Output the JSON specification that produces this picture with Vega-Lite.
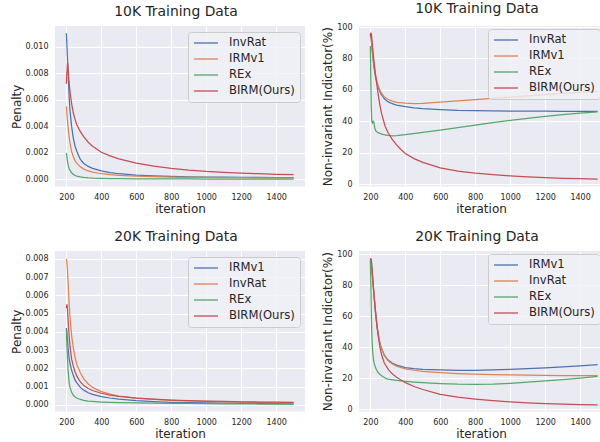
{
  "$schema": "https://vega.github.io/schema/vega-lite/v6.json",
  "background": "white",
  "padding": {"left": 10, "top": 2, "right": 0, "bottom": 0},
  "bounds": "flush",
  "columns": 2,
  "spacing": {"row": 64, "column": 54},
  "resolve": {"scale": {"color": "independent", "x": "independent", "y": "independent"}, "legend": {"color": "independent"}},
  "config": {
    "font": "DejaVu Sans",
    "view": {"fill": "#EAEAF2", "stroke": null},
    "axis": {"domain": false, "ticks": false, "tickSize": 0, "grid": true, "gridColor": "#FFFFFF", "gridWidth": 1, "labelFont": "DejaVu Sans", "labelFontSize": 8, "labelColor": "#262626", "labelPadding": 7, "titleFont": "DejaVu Sans", "titleFontSize": 12, "titleFontWeight": "normal", "titleColor": "#262626", "titlePadding": 2},
    "title": {"font": "DejaVu Sans", "fontSize": 13.9, "fontWeight": "normal", "color": "#262626", "baseline": "alphabetic", "offset": 7, "frame": "group", "dx": -4},
    "legend": {"orient": "top-right", "offset": 5, "fillColor": "rgba(240,240,246,0.8)", "strokeColor": "#CCCCCC", "strokeWidth": 1, "padding": 5, "cornerRadius": 3, "symbolType": "M-1,0H3.8", "symbolSize": 100, "symbolStrokeWidth": 1.3, "labelFontSize": 11.6, "labelFont": "DejaVu Sans", "labelColor": "#262626", "labelOffset": 24, "rowPadding": 4}
  },
  "datasets": {
    "p1": [
      {"it":200,"m":"InvRat","v":0.0110},{"it":203,"m":"InvRat","v":0.0101},{"it":206,"m":"InvRat","v":0.0092},{"it":210,"m":"InvRat","v":0.0080},{"it":215,"m":"InvRat","v":0.0065},{"it":220,"m":"InvRat","v":0.0053},{"it":230,"m":"InvRat","v":0.0040},{"it":240,"m":"InvRat","v":0.0031},{"it":250,"m":"InvRat","v":0.0025},{"it":260,"m":"InvRat","v":0.0021},{"it":280,"m":"InvRat","v":0.0015},{"it":300,"m":"InvRat","v":0.0012},{"it":325,"m":"InvRat","v":0.00098},{"it":350,"m":"InvRat","v":0.00084},{"it":400,"m":"InvRat","v":0.00065},{"it":450,"m":"InvRat","v":0.00052},{"it":500,"m":"InvRat","v":0.00043},{"it":600,"m":"InvRat","v":0.00033},{"it":700,"m":"InvRat","v":0.00027},{"it":800,"m":"InvRat","v":0.00023},{"it":900,"m":"InvRat","v":0.0002},{"it":1000,"m":"InvRat","v":0.00018},{"it":1100,"m":"InvRat","v":0.00017},{"it":1200,"m":"InvRat","v":0.00016},{"it":1300,"m":"InvRat","v":0.00015},{"it":1400,"m":"InvRat","v":0.00014},{"it":1500,"m":"InvRat","v":0.00014},
      {"it":200,"m":"IRMv1","v":0.0055},{"it":203,"m":"IRMv1","v":0.0050},{"it":206,"m":"IRMv1","v":0.0045},{"it":210,"m":"IRMv1","v":0.0039},{"it":215,"m":"IRMv1","v":0.0033},{"it":220,"m":"IRMv1","v":0.0028},{"it":230,"m":"IRMv1","v":0.0021},{"it":240,"m":"IRMv1","v":0.0017},{"it":250,"m":"IRMv1","v":0.0014},{"it":260,"m":"IRMv1","v":0.00121},{"it":280,"m":"IRMv1","v":0.00095},{"it":300,"m":"IRMv1","v":0.00078},{"it":325,"m":"IRMv1","v":0.00064},{"it":350,"m":"IRMv1","v":0.00055},{"it":400,"m":"IRMv1","v":0.00043},{"it":450,"m":"IRMv1","v":0.00036},{"it":500,"m":"IRMv1","v":0.00031},{"it":600,"m":"IRMv1","v":0.00025},{"it":700,"m":"IRMv1","v":0.00021},{"it":800,"m":"IRMv1","v":0.00018},{"it":900,"m":"IRMv1","v":0.00016},{"it":1000,"m":"IRMv1","v":0.00015},{"it":1100,"m":"IRMv1","v":0.00014},{"it":1200,"m":"IRMv1","v":0.00013},{"it":1300,"m":"IRMv1","v":0.00012},{"it":1400,"m":"IRMv1","v":0.00012},{"it":1500,"m":"IRMv1","v":0.00011},
      {"it":200,"m":"REx","v":0.0020},{"it":203,"m":"REx","v":0.0017},{"it":206,"m":"REx","v":0.0014},{"it":210,"m":"REx","v":0.0011},{"it":215,"m":"REx","v":0.00085},{"it":220,"m":"REx","v":0.0007},{"it":230,"m":"REx","v":0.0005},{"it":240,"m":"REx","v":0.00038},{"it":250,"m":"REx","v":0.0003},{"it":260,"m":"REx","v":0.00025},{"it":280,"m":"REx","v":0.00019},{"it":300,"m":"REx","v":0.00015},{"it":325,"m":"REx","v":0.00012},{"it":350,"m":"REx","v":0.0001},{"it":400,"m":"REx","v":0.00008},{"it":450,"m":"REx","v":0.00007},{"it":500,"m":"REx","v":0.00006},{"it":600,"m":"REx","v":0.00005},{"it":700,"m":"REx","v":0.000045},{"it":800,"m":"REx","v":0.00004},{"it":900,"m":"REx","v":0.000035},{"it":1000,"m":"REx","v":0.00003},{"it":1100,"m":"REx","v":0.00003},{"it":1200,"m":"REx","v":0.000025},{"it":1300,"m":"REx","v":0.000025},{"it":1400,"m":"REx","v":0.00002},{"it":1500,"m":"REx","v":0.00002},
      {"it":200,"m":"BIRM(Ours)","v":0.0072},{"it":203,"m":"BIRM(Ours)","v":0.0080},{"it":206,"m":"BIRM(Ours)","v":0.0087},{"it":208,"m":"BIRM(Ours)","v":0.0087},{"it":210,"m":"BIRM(Ours)","v":0.0083},{"it":215,"m":"BIRM(Ours)","v":0.0074},{"it":220,"m":"BIRM(Ours)","v":0.0067},{"it":230,"m":"BIRM(Ours)","v":0.0057},{"it":240,"m":"BIRM(Ours)","v":0.0050},{"it":250,"m":"BIRM(Ours)","v":0.0045},{"it":260,"m":"BIRM(Ours)","v":0.0041},{"it":280,"m":"BIRM(Ours)","v":0.0036},{"it":300,"m":"BIRM(Ours)","v":0.0032},{"it":325,"m":"BIRM(Ours)","v":0.0028},{"it":350,"m":"BIRM(Ours)","v":0.0025},{"it":400,"m":"BIRM(Ours)","v":0.00205},{"it":450,"m":"BIRM(Ours)","v":0.00177},{"it":500,"m":"BIRM(Ours)","v":0.00155},{"it":600,"m":"BIRM(Ours)","v":0.00123},{"it":700,"m":"BIRM(Ours)","v":0.00101},{"it":800,"m":"BIRM(Ours)","v":0.00084},{"it":900,"m":"BIRM(Ours)","v":0.00071},{"it":1000,"m":"BIRM(Ours)","v":0.00061},{"it":1100,"m":"BIRM(Ours)","v":0.00054},{"it":1200,"m":"BIRM(Ours)","v":0.00048},{"it":1300,"m":"BIRM(Ours)","v":0.00043},{"it":1400,"m":"BIRM(Ours)","v":0.00039},{"it":1500,"m":"BIRM(Ours)","v":0.00036}
    ],
    "p2": [
      {"it":200,"m":"InvRat","v":95.5},{"it":205,"m":"InvRat","v":92},{"it":210,"m":"InvRat","v":86},{"it":215,"m":"InvRat","v":80},{"it":220,"m":"InvRat","v":75},{"it":230,"m":"InvRat","v":68},{"it":240,"m":"InvRat","v":63.5},{"it":250,"m":"InvRat","v":60},{"it":260,"m":"InvRat","v":57.5},{"it":280,"m":"InvRat","v":54.3},{"it":300,"m":"InvRat","v":52.5},{"it":325,"m":"InvRat","v":51.2},{"it":350,"m":"InvRat","v":50.3},{"it":400,"m":"InvRat","v":49.3},{"it":450,"m":"InvRat","v":48.6},{"it":500,"m":"InvRat","v":48.1},{"it":600,"m":"InvRat","v":47.5},{"it":700,"m":"InvRat","v":47},{"it":800,"m":"InvRat","v":46.8},{"it":900,"m":"InvRat","v":46.6},{"it":1000,"m":"InvRat","v":46.5},{"it":1100,"m":"InvRat","v":46.45},{"it":1200,"m":"InvRat","v":46.4},{"it":1300,"m":"InvRat","v":46.35},{"it":1400,"m":"InvRat","v":46.3},{"it":1500,"m":"InvRat","v":46.3},
      {"it":200,"m":"IRMv1","v":95.5},{"it":205,"m":"IRMv1","v":92.5},{"it":210,"m":"IRMv1","v":87},{"it":215,"m":"IRMv1","v":81},{"it":220,"m":"IRMv1","v":76},{"it":230,"m":"IRMv1","v":69},{"it":240,"m":"IRMv1","v":64.5},{"it":250,"m":"IRMv1","v":61},{"it":260,"m":"IRMv1","v":58.5},{"it":280,"m":"IRMv1","v":55.5},{"it":300,"m":"IRMv1","v":54},{"it":325,"m":"IRMv1","v":52.8},{"it":350,"m":"IRMv1","v":52.1},{"it":400,"m":"IRMv1","v":51.5},{"it":450,"m":"IRMv1","v":51.3},{"it":500,"m":"IRMv1","v":51.4},{"it":600,"m":"IRMv1","v":52.2},{"it":700,"m":"IRMv1","v":53},{"it":800,"m":"IRMv1","v":53.8},{"it":900,"m":"IRMv1","v":54.6},{"it":1000,"m":"IRMv1","v":55.4},{"it":1100,"m":"IRMv1","v":56.2},{"it":1200,"m":"IRMv1","v":57},{"it":1300,"m":"IRMv1","v":57.7},{"it":1400,"m":"IRMv1","v":58.4},{"it":1500,"m":"IRMv1","v":59},
      {"it":200,"m":"REx","v":88},{"it":202,"m":"REx","v":70},{"it":205,"m":"REx","v":50},{"it":208,"m":"REx","v":40},{"it":212,"m":"REx","v":39},{"it":216,"m":"REx","v":40},{"it":220,"m":"REx","v":39.5},{"it":225,"m":"REx","v":36},{"it":230,"m":"REx","v":34},{"it":240,"m":"REx","v":33},{"it":250,"m":"REx","v":32.5},{"it":275,"m":"REx","v":31.5},{"it":300,"m":"REx","v":31},{"it":325,"m":"REx","v":30.7},{"it":350,"m":"REx","v":30.9},{"it":400,"m":"REx","v":31.5},{"it":500,"m":"REx","v":33},{"it":600,"m":"REx","v":34.4},{"it":700,"m":"REx","v":36},{"it":800,"m":"REx","v":37.6},{"it":900,"m":"REx","v":39.2},{"it":1000,"m":"REx","v":40.6},{"it":1100,"m":"REx","v":41.9},{"it":1200,"m":"REx","v":43.1},{"it":1300,"m":"REx","v":44.2},{"it":1400,"m":"REx","v":45.2},{"it":1500,"m":"REx","v":46},
      {"it":200,"m":"BIRM(Ours)","v":94},{"it":203,"m":"BIRM(Ours)","v":96.5},{"it":206,"m":"BIRM(Ours)","v":95.5},{"it":210,"m":"BIRM(Ours)","v":91},{"it":215,"m":"BIRM(Ours)","v":85},{"it":220,"m":"BIRM(Ours)","v":79},{"it":228,"m":"BIRM(Ours)","v":71},{"it":235,"m":"BIRM(Ours)","v":65},{"it":245,"m":"BIRM(Ours)","v":57},{"it":255,"m":"BIRM(Ours)","v":50},{"it":265,"m":"BIRM(Ours)","v":44.5},{"it":284,"m":"BIRM(Ours)","v":37},{"it":300,"m":"BIRM(Ours)","v":33},{"it":325,"m":"BIRM(Ours)","v":28.5},{"it":350,"m":"BIRM(Ours)","v":25},{"it":375,"m":"BIRM(Ours)","v":22},{"it":400,"m":"BIRM(Ours)","v":19.5},{"it":450,"m":"BIRM(Ours)","v":16.2},{"it":500,"m":"BIRM(Ours)","v":13.8},{"it":600,"m":"BIRM(Ours)","v":10.3},{"it":700,"m":"BIRM(Ours)","v":8.3},{"it":800,"m":"BIRM(Ours)","v":7},{"it":900,"m":"BIRM(Ours)","v":6},{"it":1000,"m":"BIRM(Ours)","v":5.2},{"it":1100,"m":"BIRM(Ours)","v":4.6},{"it":1200,"m":"BIRM(Ours)","v":4.1},{"it":1300,"m":"BIRM(Ours)","v":3.7},{"it":1400,"m":"BIRM(Ours)","v":3.4},{"it":1500,"m":"BIRM(Ours)","v":3.1}
    ],
    "p3": [
      {"it":200,"m":"IRMv1","v":0.0042},{"it":203,"m":"IRMv1","v":0.0040},{"it":206,"m":"IRMv1","v":0.0036},{"it":210,"m":"IRMv1","v":0.0031},{"it":215,"m":"IRMv1","v":0.0026},{"it":220,"m":"IRMv1","v":0.0023},{"it":230,"m":"IRMv1","v":0.0019},{"it":240,"m":"IRMv1","v":0.0016},{"it":250,"m":"IRMv1","v":0.00135},{"it":260,"m":"IRMv1","v":0.0012},{"it":280,"m":"IRMv1","v":0.00095},{"it":300,"m":"IRMv1","v":0.0008},{"it":325,"m":"IRMv1","v":0.00066},{"it":350,"m":"IRMv1","v":0.00057},{"it":400,"m":"IRMv1","v":0.00045},{"it":450,"m":"IRMv1","v":0.00037},{"it":500,"m":"IRMv1","v":0.00031},{"it":600,"m":"IRMv1","v":0.00022},{"it":700,"m":"IRMv1","v":0.00017},{"it":800,"m":"IRMv1","v":0.00013},{"it":900,"m":"IRMv1","v":0.00011},{"it":1000,"m":"IRMv1","v":0.0001},{"it":1100,"m":"IRMv1","v":0.00009},{"it":1200,"m":"IRMv1","v":0.00008},{"it":1300,"m":"IRMv1","v":0.00007},{"it":1400,"m":"IRMv1","v":0.00006},{"it":1500,"m":"IRMv1","v":0.00005},
      {"it":200,"m":"InvRat","v":0.0080},{"it":203,"m":"InvRat","v":0.0078},{"it":206,"m":"InvRat","v":0.0074},{"it":210,"m":"InvRat","v":0.0067},{"it":215,"m":"InvRat","v":0.0057},{"it":220,"m":"InvRat","v":0.0049},{"it":230,"m":"InvRat","v":0.0038},{"it":240,"m":"InvRat","v":0.0031},{"it":250,"m":"InvRat","v":0.0026},{"it":260,"m":"InvRat","v":0.0022},{"it":280,"m":"InvRat","v":0.00175},{"it":300,"m":"InvRat","v":0.00142},{"it":325,"m":"InvRat","v":0.00114},{"it":350,"m":"InvRat","v":0.00095},{"it":400,"m":"InvRat","v":0.00072},{"it":450,"m":"InvRat","v":0.00058},{"it":500,"m":"InvRat","v":0.00048},{"it":600,"m":"InvRat","v":0.00036},{"it":700,"m":"InvRat","v":0.00029},{"it":800,"m":"InvRat","v":0.00024},{"it":900,"m":"InvRat","v":0.00021},{"it":1000,"m":"InvRat","v":0.00018},{"it":1100,"m":"InvRat","v":0.00016},{"it":1200,"m":"InvRat","v":0.00014},{"it":1300,"m":"InvRat","v":0.00013},{"it":1400,"m":"InvRat","v":0.00012},{"it":1500,"m":"InvRat","v":0.00011},
      {"it":200,"m":"REx","v":0.0041},{"it":203,"m":"REx","v":0.0033},{"it":206,"m":"REx","v":0.0026},{"it":210,"m":"REx","v":0.0019},{"it":215,"m":"REx","v":0.0013},{"it":220,"m":"REx","v":0.00098},{"it":230,"m":"REx","v":0.00068},{"it":240,"m":"REx","v":0.00052},{"it":250,"m":"REx","v":0.00043},{"it":260,"m":"REx","v":0.00037},{"it":280,"m":"REx","v":0.00029},{"it":300,"m":"REx","v":0.00024},{"it":325,"m":"REx","v":0.0002},{"it":350,"m":"REx","v":0.00018},{"it":400,"m":"REx","v":0.00015},{"it":450,"m":"REx","v":0.00013},{"it":500,"m":"REx","v":0.00012},{"it":600,"m":"REx","v":0.0001},{"it":700,"m":"REx","v":0.00009},{"it":800,"m":"REx","v":0.00008},{"it":900,"m":"REx","v":0.00007},{"it":1000,"m":"REx","v":0.00006},{"it":1100,"m":"REx","v":0.00005},{"it":1200,"m":"REx","v":0.00005},{"it":1300,"m":"REx","v":0.00004},{"it":1400,"m":"REx","v":0.00004},{"it":1500,"m":"REx","v":0.00003},
      {"it":200,"m":"BIRM(Ours)","v":0.0053},{"it":203,"m":"BIRM(Ours)","v":0.0055},{"it":205,"m":"BIRM(Ours)","v":0.0054},{"it":210,"m":"BIRM(Ours)","v":0.0046},{"it":215,"m":"BIRM(Ours)","v":0.0039},{"it":220,"m":"BIRM(Ours)","v":0.0033},{"it":230,"m":"BIRM(Ours)","v":0.0025},{"it":240,"m":"BIRM(Ours)","v":0.0021},{"it":250,"m":"BIRM(Ours)","v":0.0018},{"it":260,"m":"BIRM(Ours)","v":0.00157},{"it":280,"m":"BIRM(Ours)","v":0.00125},{"it":300,"m":"BIRM(Ours)","v":0.00105},{"it":325,"m":"BIRM(Ours)","v":0.00089},{"it":350,"m":"BIRM(Ours)","v":0.00078},{"it":400,"m":"BIRM(Ours)","v":0.00063},{"it":450,"m":"BIRM(Ours)","v":0.00053},{"it":500,"m":"BIRM(Ours)","v":0.00046},{"it":600,"m":"BIRM(Ours)","v":0.00037},{"it":700,"m":"BIRM(Ours)","v":0.00031},{"it":800,"m":"BIRM(Ours)","v":0.00026},{"it":900,"m":"BIRM(Ours)","v":0.00023},{"it":1000,"m":"BIRM(Ours)","v":0.0002},{"it":1100,"m":"BIRM(Ours)","v":0.00018},{"it":1200,"m":"BIRM(Ours)","v":0.00016},{"it":1300,"m":"BIRM(Ours)","v":0.00015},{"it":1400,"m":"BIRM(Ours)","v":0.00014},{"it":1500,"m":"BIRM(Ours)","v":0.00013}
    ],
    "p4": [
      {"it":200,"m":"IRMv1","v":97},{"it":203,"m":"IRMv1","v":96},{"it":206,"m":"IRMv1","v":93},{"it":210,"m":"IRMv1","v":88},{"it":215,"m":"IRMv1","v":82},{"it":220,"m":"IRMv1","v":75},{"it":230,"m":"IRMv1","v":62},{"it":240,"m":"IRMv1","v":52},{"it":250,"m":"IRMv1","v":45},{"it":260,"m":"IRMv1","v":40.5},{"it":280,"m":"IRMv1","v":35},{"it":300,"m":"IRMv1","v":32},{"it":325,"m":"IRMv1","v":30},{"it":350,"m":"IRMv1","v":28.6},{"it":400,"m":"IRMv1","v":27},{"it":450,"m":"IRMv1","v":26.3},{"it":500,"m":"IRMv1","v":25.9},{"it":600,"m":"IRMv1","v":25.5},{"it":700,"m":"IRMv1","v":25.3},{"it":800,"m":"IRMv1","v":25.3},{"it":900,"m":"IRMv1","v":25.5},{"it":1000,"m":"IRMv1","v":25.8},{"it":1100,"m":"IRMv1","v":26.3},{"it":1200,"m":"IRMv1","v":26.9},{"it":1300,"m":"IRMv1","v":27.5},{"it":1400,"m":"IRMv1","v":28.2},{"it":1500,"m":"IRMv1","v":28.9},
      {"it":200,"m":"InvRat","v":97.5},{"it":203,"m":"InvRat","v":96.5},{"it":206,"m":"InvRat","v":93},{"it":210,"m":"InvRat","v":88},{"it":215,"m":"InvRat","v":82},{"it":220,"m":"InvRat","v":75},{"it":230,"m":"InvRat","v":62},{"it":240,"m":"InvRat","v":52},{"it":250,"m":"InvRat","v":45},{"it":260,"m":"InvRat","v":40.5},{"it":280,"m":"InvRat","v":34.8},{"it":300,"m":"InvRat","v":31.6},{"it":325,"m":"InvRat","v":29.4},{"it":350,"m":"InvRat","v":28},{"it":400,"m":"InvRat","v":26.2},{"it":450,"m":"InvRat","v":25.3},{"it":500,"m":"InvRat","v":24.6},{"it":600,"m":"InvRat","v":23.8},{"it":700,"m":"InvRat","v":23.2},{"it":800,"m":"InvRat","v":22.8},{"it":900,"m":"InvRat","v":22.5},{"it":1000,"m":"InvRat","v":22.3},{"it":1100,"m":"InvRat","v":22.1},{"it":1200,"m":"InvRat","v":22},{"it":1300,"m":"InvRat","v":21.9},{"it":1400,"m":"InvRat","v":21.9},{"it":1500,"m":"InvRat","v":21.9},
      {"it":200,"m":"REx","v":96},{"it":202,"m":"REx","v":85},{"it":204,"m":"REx","v":72},{"it":206,"m":"REx","v":60},{"it":208,"m":"REx","v":50},{"it":210,"m":"REx","v":44},{"it":213,"m":"REx","v":38},{"it":217,"m":"REx","v":33},{"it":220,"m":"REx","v":30.5},{"it":228,"m":"REx","v":27.5},{"it":235,"m":"REx","v":25.5},{"it":247,"m":"REx","v":23.5},{"it":260,"m":"REx","v":22},{"it":284,"m":"REx","v":20.3},{"it":300,"m":"REx","v":19.6},{"it":350,"m":"REx","v":18.7},{"it":400,"m":"REx","v":18.2},{"it":450,"m":"REx","v":17.7},{"it":500,"m":"REx","v":17.3},{"it":600,"m":"REx","v":16.7},{"it":700,"m":"REx","v":16.3},{"it":800,"m":"REx","v":16.2},{"it":900,"m":"REx","v":16.4},{"it":1000,"m":"REx","v":16.9},{"it":1100,"m":"REx","v":17.6},{"it":1200,"m":"REx","v":18.4},{"it":1300,"m":"REx","v":19.3},{"it":1400,"m":"REx","v":20.3},{"it":1500,"m":"REx","v":21.3},
      {"it":200,"m":"BIRM(Ours)","v":96},{"it":203,"m":"BIRM(Ours)","v":97.5},{"it":206,"m":"BIRM(Ours)","v":96},{"it":210,"m":"BIRM(Ours)","v":91},{"it":215,"m":"BIRM(Ours)","v":83},{"it":220,"m":"BIRM(Ours)","v":75},{"it":228,"m":"BIRM(Ours)","v":65},{"it":237,"m":"BIRM(Ours)","v":55},{"it":247,"m":"BIRM(Ours)","v":46},{"it":255,"m":"BIRM(Ours)","v":40},{"it":265,"m":"BIRM(Ours)","v":35},{"it":280,"m":"BIRM(Ours)","v":30},{"it":303,"m":"BIRM(Ours)","v":25.7},{"it":325,"m":"BIRM(Ours)","v":23},{"it":350,"m":"BIRM(Ours)","v":20.8},{"it":400,"m":"BIRM(Ours)","v":17.3},{"it":450,"m":"BIRM(Ours)","v":14.8},{"it":500,"m":"BIRM(Ours)","v":12.9},{"it":600,"m":"BIRM(Ours)","v":9.8},{"it":700,"m":"BIRM(Ours)","v":7.9},{"it":800,"m":"BIRM(Ours)","v":6.7},{"it":900,"m":"BIRM(Ours)","v":5.7},{"it":1000,"m":"BIRM(Ours)","v":4.9},{"it":1100,"m":"BIRM(Ours)","v":4.3},{"it":1200,"m":"BIRM(Ours)","v":3.8},{"it":1300,"m":"BIRM(Ours)","v":3.4},{"it":1400,"m":"BIRM(Ours)","v":3.2},{"it":1500,"m":"BIRM(Ours)","v":3.0}
    ]
  },
  "concat": [
    {
      "width": 250, "height": 160.5,
      "title": "10K Training Data",
      "data": {"name": "p1"},
      "mark": {"type": "line", "strokeWidth": 1.25},
      "encoding": {
        "x": {"field": "it", "type": "quantitative", "scale": {"domain": [135, 1565], "nice": false, "zero": false}, "axis": {"values": [200, 400, 600, 800, 1000, 1200, 1400], "format": "d", "title": "iteration"}},
        "y": {"field": "v", "type": "quantitative", "scale": {"domain": [-0.00053, 0.01155], "nice": false, "zero": false}, "axis": {"values": [0, 0.002, 0.004, 0.006, 0.008, 0.010], "format": ".3f", "title": "Penalty"}},
        "color": {"field": "m", "type": "nominal", "scale": {"domain": ["InvRat", "IRMv1", "REx", "BIRM(Ours)"], "range": ["#4C72B0", "#DD8452", "#55A868", "#C44E52"]}, "legend": {"title": null, "offset": 5.5}}
      }
    },
    {
      "width": 244, "height": 160.5,
      "title": "10K Training Data",
      "data": {"name": "p2"},
      "mark": {"type": "line", "strokeWidth": 1.25},
      "encoding": {
        "x": {"field": "it", "type": "quantitative", "scale": {"domain": [135, 1531], "nice": false, "zero": false}, "axis": {"values": [200, 400, 600, 800, 1000, 1200, 1400], "format": "d", "title": "iteration"}},
        "y": {"field": "v", "type": "quantitative", "scale": {"domain": [-1.55, 100.7], "nice": false, "zero": false}, "axis": {"values": [0, 20, 40, 60, 80, 100], "title": "Non-invariant Indicator(%)"}},
        "color": {"field": "m", "type": "nominal", "scale": {"domain": ["InvRat", "IRMv1", "REx", "BIRM(Ours)"], "range": ["#4C72B0", "#DD8452", "#55A868", "#C44E52"]}, "legend": {"title": null, "offset": 3}}
      }
    },
    {
      "width": 250, "height": 160.5,
      "title": "20K Training Data",
      "data": {"name": "p3"},
      "mark": {"type": "line", "strokeWidth": 1.25},
      "encoding": {
        "x": {"field": "it", "type": "quantitative", "scale": {"domain": [135, 1565], "nice": false, "zero": false}, "axis": {"values": [200, 400, 600, 800, 1000, 1200, 1400], "format": "d", "title": "iteration"}},
        "y": {"field": "v", "type": "quantitative", "scale": {"domain": [-0.00037, 0.00843], "nice": false, "zero": false}, "axis": {"values": [0, 0.001, 0.002, 0.003, 0.004, 0.005, 0.006, 0.007, 0.008], "format": ".3f", "title": "Penalty"}},
        "color": {"field": "m", "type": "nominal", "scale": {"domain": ["IRMv1", "InvRat", "REx", "BIRM(Ours)"], "range": ["#4C72B0", "#DD8452", "#55A868", "#C44E52"]}, "legend": {"title": null, "offset": 5.5}}
      }
    },
    {
      "width": 244, "height": 160.5,
      "title": "20K Training Data",
      "data": {"name": "p4"},
      "mark": {"type": "line", "strokeWidth": 1.25},
      "encoding": {
        "x": {"field": "it", "type": "quantitative", "scale": {"domain": [135, 1531], "nice": false, "zero": false}, "axis": {"values": [200, 400, 600, 800, 1000, 1200, 1400], "format": "d", "title": "iteration"}},
        "y": {"field": "v", "type": "quantitative", "scale": {"domain": [-1.3, 102.2], "nice": false, "zero": false}, "axis": {"values": [0, 20, 40, 60, 80, 100], "title": "Non-invariant Indicator(%)"}},
        "color": {"field": "m", "type": "nominal", "scale": {"domain": ["IRMv1", "InvRat", "REx", "BIRM(Ours)"], "range": ["#4C72B0", "#DD8452", "#55A868", "#C44E52"]}, "legend": {"title": null, "offset": 3}}
      }
    }
  ]
}
